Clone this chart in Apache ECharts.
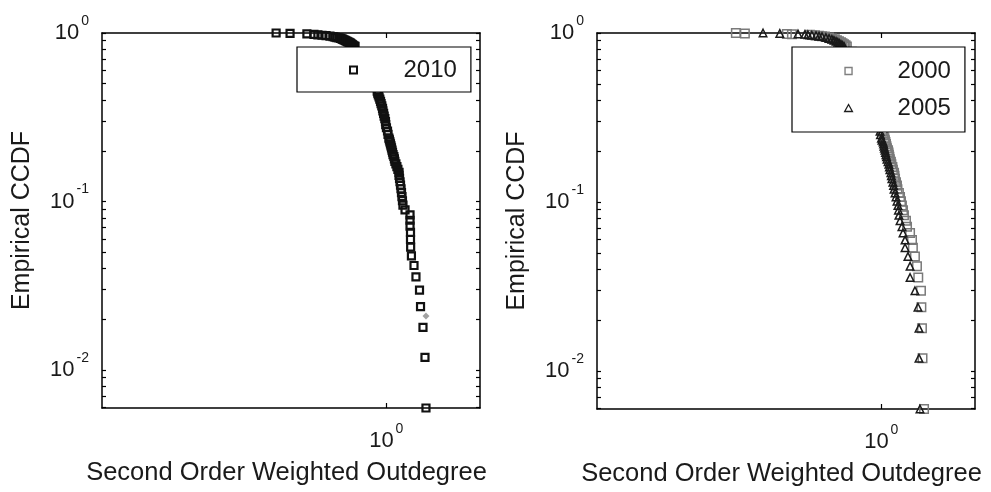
<!DOCTYPE html>
<html>
<head>
<meta charset="utf-8">
<script src="https://cdn.jsdelivr.net/npm/echarts@6/dist/echarts.min.js"></script>
<style>html,body{margin:0;padding:0;background:#fff}#c{width:991px;height:492px}</style>
</head>
<body>
<div id="c"></div>
<script>
// ---- data (x = second order weighted outdegree, y = empirical CCDF) ----
const xRange = [0.2, 1.7];
const yRange = [0.00595, 1];
const xTickValues = [1];
const yMajorTickValues = [0.01, 0.1, 1];
const yAllTickValues = [0.006, 0.007, 0.008, 0.009, 0.01, 0.02, 0.03, 0.04, 0.05, 0.06, 0.07, 0.08, 0.09,
  0.1, 0.2, 0.3, 0.4, 0.5, 0.6, 0.7, 0.8, 0.9, 1];

const series2010 = [
  [1.252, 0.00595], [1.245, 0.0119], [1.231, 0.0179], [1.214, 0.0238], [1.207, 0.0298],
  [1.183, 0.0357], [1.170, 0.0417], [1.153, 0.0476], [1.148, 0.0536], [1.147, 0.0595],
  [1.147, 0.0655], [1.144, 0.0714], [1.144, 0.0774], [1.144, 0.0833], [1.112, 0.0893],
  [1.099, 0.0952], [1.096, 0.101], [1.093, 0.107], [1.090, 0.113], [1.087, 0.119],
  [1.084, 0.125], [1.081, 0.131], [1.078, 0.137], [1.075, 0.143], [1.075, 0.149],
  [1.068, 0.155], [1.062, 0.161], [1.056, 0.167], [1.050, 0.173], [1.047, 0.179],
  [1.044, 0.185], [1.039, 0.190], [1.036, 0.196], [1.033, 0.202], [1.030, 0.208],
  [1.027, 0.214], [1.024, 0.220], [1.021, 0.226], [1.018, 0.232], [1.015, 0.238],
  [1.010, 0.250], [1.007, 0.262], [1.001, 0.274], [0.997, 0.286], [0.9955, 0.298],
  [0.992, 0.310], [0.988, 0.321], [0.985, 0.333], [0.981, 0.345], [0.979, 0.357],
  [0.975, 0.369], [0.971, 0.381], [0.968, 0.393], [0.964, 0.405], [0.960, 0.417],
  [0.956, 0.429], [0.953, 0.440], [0.950, 0.452], [0.943, 0.476], [0.927, 0.536],
  [0.912, 0.595], [0.897, 0.655], [0.882, 0.714], [0.862, 0.774], [0.838, 0.833],
  [0.833, 0.839], [0.828, 0.845], [0.826, 0.851], [0.823, 0.857], [0.819, 0.863],
  [0.817, 0.869], [0.814, 0.875], [0.810, 0.881], [0.805, 0.887], [0.801, 0.893],
  [0.796, 0.899], [0.792, 0.905], [0.787, 0.911], [0.782, 0.917], [0.778, 0.923],
  [0.772, 0.929], [0.765, 0.935], [0.756, 0.940], [0.748, 0.946], [0.740, 0.952],
  [0.727, 0.958], [0.711, 0.964], [0.695, 0.970], [0.679, 0.976], [0.664, 0.982],
  [0.638, 0.988], [0.580, 0.994], [0.536, 1]
];
const stray2010 = [[1.252, 0.0209]];

const series2000 = [
  [1.274, 0.00595], [1.263, 0.0119], [1.259, 0.0179], [1.255, 0.0238], [1.252, 0.0298],
  [1.233, 0.0357], [1.224, 0.0417], [1.210, 0.0476], [1.196, 0.0536], [1.190, 0.0595],
  [1.177, 0.0655], [1.157, 0.0714], [1.150, 0.0774], [1.137, 0.0833], [1.131, 0.0893],
  [1.124, 0.0952], [1.118, 0.101], [1.112, 0.107], [1.105, 0.113], [1.096, 0.119],
  [1.093, 0.125], [1.087, 0.131], [1.081, 0.137], [1.078, 0.143], [1.075, 0.149],
  [1.068, 0.155], [1.065, 0.161], [1.059, 0.167], [1.056, 0.173], [1.050, 0.179],
  [1.047, 0.185], [1.044, 0.190], [1.042, 0.196], [1.039, 0.202], [1.033, 0.208],
  [1.030, 0.214], [1.027, 0.220], [1.024, 0.226], [1.021, 0.232], [1.018, 0.238],
  [1.013, 0.250], [1.007, 0.262], [0.993, 0.298], [0.970, 0.357], [0.949, 0.417],
  [0.930, 0.476], [0.912, 0.536], [0.897, 0.595], [0.884, 0.655], [0.872, 0.714],
  [0.847, 0.774], [0.823, 0.833], [0.817, 0.845], [0.810, 0.857], [0.803, 0.869],
  [0.796, 0.881], [0.787, 0.893], [0.778, 0.905], [0.769, 0.917], [0.756, 0.929],
  [0.744, 0.940], [0.727, 0.952], [0.715, 0.958], [0.703, 0.964], [0.687, 0.970],
  [0.668, 0.976], [0.603, 0.982], [0.586, 0.988], [0.462, 0.994], [0.439, 1]
];

const series2005 = [
  [1.245, 0.00595], [1.238, 0.0119], [1.238, 0.0179], [1.231, 0.0238], [1.210, 0.0298],
  [1.177, 0.0357], [1.177, 0.0417], [1.163, 0.0476], [1.144, 0.0536], [1.144, 0.0595],
  [1.131, 0.0655], [1.124, 0.0714], [1.112, 0.0774], [1.105, 0.0833], [1.102, 0.0893],
  [1.099, 0.0952], [1.093, 0.101], [1.087, 0.107], [1.081, 0.113], [1.075, 0.119],
  [1.072, 0.125], [1.068, 0.131], [1.062, 0.137], [1.059, 0.143], [1.056, 0.149],
  [1.050, 0.155], [1.047, 0.161], [1.044, 0.167], [1.039, 0.173], [1.033, 0.179],
  [1.030, 0.185], [1.027, 0.190], [1.024, 0.196], [1.021, 0.202], [1.018, 0.208],
  [1.015, 0.214], [1.013, 0.220], [1.010, 0.226], [1.004, 0.232], [1.001, 0.238],
  [0.9955, 0.250], [0.993, 0.262], [0.976, 0.298], [0.954, 0.357], [0.933, 0.417],
  [0.915, 0.476], [0.899, 0.536], [0.884, 0.595], [0.870, 0.655], [0.857, 0.714],
  [0.833, 0.774], [0.810, 0.833], [0.803, 0.845], [0.796, 0.857], [0.789, 0.869],
  [0.782, 0.881], [0.774, 0.893], [0.765, 0.905], [0.756, 0.917], [0.744, 0.929],
  [0.731, 0.940], [0.715, 0.952], [0.703, 0.958], [0.691, 0.964], [0.675, 0.970],
  [0.660, 0.976], [0.649, 0.982], [0.624, 0.988], [0.563, 0.994], [0.512, 1]
];

// ---- chart ----
const FONT = '"Liberation Sans", Arial, Helvetica, sans-serif';
const TXT = '#1a1a1a';
const chart = echarts.init(document.getElementById('c'), null, {renderer: 'canvas'});

function powLabel(v) {
  const l = Math.log10(v);
  const e = Math.round(l);
  if (Math.abs(l - e) > 1e-6) return '';
  return '{b|10}{s|' + e + '}';
}
const rich = {
  b: {fontSize: 22, fontFamily: FONT, color: TXT},
  s: {fontSize: 14, fontFamily: FONT, color: TXT, padding: [0, 0, 24, 2]}
};
const boxLine = {show: true, onZero: false, lineStyle: {color: '#000', width: 1.5}};

function xAxes(grid, main) {
  return {
    type: 'log', logBase: 10, gridIndex: grid, position: main ? 'bottom' : 'top',
    min: xRange[0], max: xRange[1],
    axisLine: boxLine,
    axisTick: {show: true, inside: true, length: 5, customValues: xTickValues, lineStyle: {color: '#000', width: 1.2}},
    axisLabel: main ? {show: true, customValues: xTickValues, formatter: powLabel, margin: 14, rich: rich} : {show: false},
    minorTick: {show: false}, splitLine: {show: false},
    name: main ? 'Second Order Weighted Outdegree' : '',
    nameLocation: 'middle', nameGap: 52,
    nameTextStyle: {fontSize: 25.5, fontFamily: FONT, color: TXT, padding: [0, 9, 0, 0]}
  };
}
function yAxes(grid, main) {
  return {
    type: 'log', logBase: 10, gridIndex: grid, position: main ? 'left' : 'right',
    min: yRange[0], max: yRange[1],
    axisLine: boxLine,
    axisTick: {show: true, inside: true, length: 4, customValues: yAllTickValues, lineStyle: {color: '#000', width: 1.2}},
    axisLabel: main ? {show: true, customValues: yMajorTickValues, formatter: powLabel, margin: 13, rich: rich} : {show: false},
    minorTick: {show: false}, splitLine: {show: false},
    name: main ? 'Empirical CCDF' : '',
    nameLocation: 'middle', nameGap: 67, nameRotate: 90,
    nameTextStyle: {fontSize: 25, fontFamily: FONT, color: TXT}
  };
}

const sqIcon = 'path://M0,0L10,0L10,10L0,10Z';
const triIcon = 'path://M5,0L10,9L0,9Z';

const option = {
  animation: false,
  backgroundColor: '#fff',
  grid: [
    {left: 102, top: 33, width: 378, height: 375},
    {left: 597, top: 33, width: 378, height: 376}
  ],
  xAxis: [xAxes(0, true), xAxes(0, false), xAxes(1, true), xAxes(1, false)],
  yAxis: [yAxes(0, true), yAxes(0, false), yAxes(1, true), yAxes(1, false)],
  legend: [
    {
      left: 297, top: 47, orient: 'vertical', selectedMode: false,
      data: [{name: '2010', icon: sqIcon, itemStyle: {color: 'rgba(0,0,0,0)', borderColor: '#111', borderWidth: 2}}],
      itemWidth: 90, itemHeight: 7, itemGap: 13,
      padding: [11, 14, 10, 52],
      backgroundColor: '#fff', borderColor: '#000', borderWidth: 1.2,
      textStyle: {fontSize: 24, fontFamily: FONT, color: TXT}
    },
    {
      left: 792, top: 47, orient: 'vertical', selectedMode: false,
      data: [
        {name: '2000', icon: sqIcon, itemStyle: {color: 'rgba(0,0,0,0)', borderColor: '#808080', borderWidth: 1.4}},
        {name: '2005', icon: triIcon, itemStyle: {color: 'rgba(0,0,0,0)', borderColor: '#1e1e1e', borderWidth: 1.3}}
      ],
      itemWidth: 88, itemHeight: 7, itemGap: 13,
      padding: [12, 14, 12, 52],
      backgroundColor: '#fff', borderColor: '#000', borderWidth: 1.2,
      textStyle: {fontSize: 24, fontFamily: FONT, color: TXT}
    }
  ],
  series: [
    {
      name: '2010', type: 'scatter', xAxisIndex: 0, yAxisIndex: 0, data: series2010,
      symbol: 'rect', symbolSize: 7, silent: true, z: 2,
      itemStyle: {color: 'rgba(0,0,0,0)', borderColor: '#111', borderWidth: 2.2, opacity: 1}
    },
    {
      name: 'extra', type: 'scatter', xAxisIndex: 0, yAxisIndex: 0, data: stray2010,
      symbol: 'diamond', symbolSize: 7, silent: true, z: 2,
      itemStyle: {color: '#8a8a8a'}
    },
    {
      name: '2000', type: 'scatter', xAxisIndex: 2, yAxisIndex: 2, data: series2000,
      symbol: 'rect', symbolSize: 8.5, silent: true, z: 2,
      itemStyle: {color: 'rgba(0,0,0,0)', borderColor: '#7a7a7a', borderWidth: 1.5, opacity: 1}
    },
    {
      name: '2005', type: 'scatter', xAxisIndex: 2, yAxisIndex: 2, data: series2005,
      symbol: 'triangle', symbolSize: 7.5, silent: true, z: 3,
      itemStyle: {color: 'rgba(0,0,0,0)', borderColor: '#1a1a1a', borderWidth: 1.5, opacity: 1}
    }
  ]
};
chart.setOption(option);
</script>
</body>
</html>
